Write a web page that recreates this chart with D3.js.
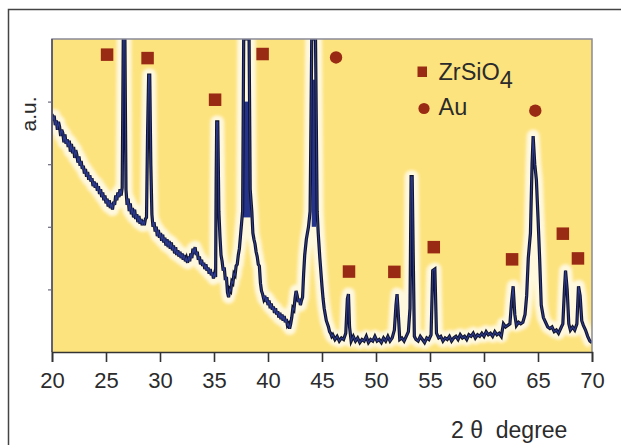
<!DOCTYPE html>
<html><head><meta charset="utf-8">
<script src="https://cdn.jsdelivr.net/npm/d3@7"></script>
<style>body{margin:0;background:#fff}svg{display:block}text{font-family:"Liberation Sans",Arial,sans-serif;fill:#2b2b2b}</style>
</head><body>
<script>
// ---- data ----
const xTicks = [20,25,30,35,40,45,50,55,60,65,70];
const yTicks = [20,40,60,80];
// XRD trace: [2theta, intensity (a.u., 0-100 = plot height)]
const trace = [
[20.0,76],[20.1,74],[20.2,75.5],[20.3,72.5],[20.4,74],[20.5,71],[20.6,73.5],[20.7,72],[20.8,69],[20.9,71],
[21.0,70],[21.1,67],[21.2,69.5],[21.3,66.5],[21.4,68],[21.5,65.5],[21.6,67.5],[21.7,64],[21.8,66.5],[21.9,63.5],
[22.0,65.5],[22.1,62],[22.2,64.5],[22.3,63],[22.4,60.5],[22.5,62.5],[22.6,59.5],[22.7,61],[22.8,58.5],[22.9,59.5],
[23.0,57],[23.1,58.5],[23.2,56],[23.3,57.5],[23.4,55],[23.5,56.5],[23.6,54.5],[23.7,55.5],[23.8,53],[23.9,54.5],
[24.0,52.5],[24.1,54],[24.2,51.5],[24.3,53],[24.4,50.5],[24.5,52],[24.6,49.5],[24.7,51],[24.8,48.5],[24.9,50],
[25.0,47.5],[25.1,49],[25.2,46.5],[25.3,48.5],[25.4,46],[25.5,47.5],[25.6,45.5],[25.7,48],[25.8,47],[25.9,50],
[26.0,48.5],[26.1,51],[26.2,49.5],[26.3,52],[26.4,50],[26.5,52.5],[26.6,100],[26.75,100],[26.85,52],[26.95,47],
[27.05,49],[27.15,45],[27.25,47.5],[27.35,44],[27.45,46],[27.55,43],[27.65,45.5],[27.75,42.5],[27.85,44],[27.95,41.5],
[28.05,43.5],[28.15,41],[28.25,42.5],[28.35,40.5],[28.45,42],[28.55,40.5],[28.65,42.5],[28.75,43],[28.85,70],[28.95,88.5],
[29.05,88.5],[29.15,60],[29.25,44],[29.35,40],[29.45,41.5],[29.55,38.5],[29.65,40],[29.75,37],[29.85,39],[29.95,36.5],
[30.05,38],[30.15,35.5],[30.25,37.5],[30.35,35],[30.45,36.5],[30.55,34],[30.65,36],[30.75,33.5],[30.85,35.5],[30.95,33],
[31.05,35],[31.15,32.5],[31.25,34],[31.35,31.5],[31.45,33.5],[31.55,31],[31.65,32.5],[31.75,30.5],[31.85,32],[31.95,30],
[32.05,31.5],[32.15,29.5],[32.25,31],[32.35,29],[32.45,30],[32.55,28.5],[32.65,30.5],[32.75,29],[32.85,31.5],[32.95,30],
[33.05,33],[33.15,31.5],[33.25,33.5],[33.35,31],[33.45,32],[33.55,29.5],[33.65,30.5],[33.75,28],[33.85,29.5],[33.95,27.5],
[34.05,28.5],[34.15,26.5],[34.25,28],[34.35,26],[34.45,27],[34.55,25],[34.65,26.5],[34.75,24.5],[34.85,25.5],[34.95,23.5],
[35.05,25],[35.15,24],[35.2,55],[35.25,73.5],[35.35,73.5],[35.45,45],[35.55,37],[35.65,31],[35.75,29],[35.85,26],
[35.95,27],[36.05,23],[36.15,24],[36.25,19],[36.35,17.5],[36.45,20],[36.55,19.5],[36.65,22.5],[36.75,22],[36.85,25],
[36.95,24.5],[37.05,27.5],[37.15,28],[37.25,31],[37.35,33],[37.45,37],[37.55,41],[37.65,45],[37.75,100],[38.25,100],
[38.35,52],[38.5,45],[38.6,38],[38.7,36],[38.8,34.5],[38.9,32],[39.0,30.5],[39.1,28],[39.2,27.5],[39.3,22],
[39.4,19.5],[39.5,18.5],[39.6,17],[39.7,18],[39.8,16],[39.9,17.5],[40.0,15],[40.1,16.5],[40.2,14],[40.3,15.5],
[40.4,13.5],[40.5,14.5],[40.6,12.5],[40.7,14],[40.8,12],[40.9,13],[41.0,11],[41.1,12.5],[41.2,10.5],[41.3,12],
[41.4,10],[41.5,11.5],[41.6,9.5],[41.7,10.5],[41.8,8.5],[41.9,9],[42.0,7.5],[42.1,9],[42.2,11],[42.3,14],
[42.4,13.5],[42.5,17],[42.6,19.5],[42.7,18],[42.8,16],[42.9,17],[43.0,15],[43.1,16.5],[43.2,17.5],[43.3,25],
[43.4,31],[43.55,36],[43.75,40],[43.9,45],[44.05,100],[44.4,100],[44.55,45],[44.65,38],[44.8,30],[45.0,21],
[45.1,17],[45.2,14],[45.3,12],[45.4,10],[45.5,9],[45.6,8],[45.7,6.5],[45.8,6],[45.9,5],[46.0,5.5],
[46.2,4],[46.4,5],[46.6,3.5],[46.8,4.5],[47.0,4],[47.2,6],[47.35,17],[47.45,18.5],[47.55,8],[47.7,3.5],
[47.9,5],[48.1,3.5],[48.3,4.5],[48.5,3],[48.7,4],[48.9,3.5],[49.1,5],[49.3,3],[49.5,4],[49.7,3.5],
[49.9,5],[50.1,3.5],[50.3,4],[50.5,3],[50.7,4.5],[50.9,3.5],[51.1,5],[51.3,3.5],[51.5,4.5],[51.7,7],
[51.85,15],[51.95,18.5],[52.05,13],[52.2,4],[52.4,4.5],[52.6,3.5],[52.8,5],[53.0,6.5],[53.15,14],[53.25,56],
[53.35,56],[53.45,30],[53.55,5],[53.7,4],[53.9,3.5],[54.1,5],[54.3,4],[54.5,3],[54.7,4.5],[54.9,4],
[55.1,5.5],[55.25,26],[55.45,26.5],[55.6,6],[55.8,4.5],[56.0,5],[56.2,3.5],[56.4,4.5],[56.6,4],[56.8,5],
[57.0,3.5],[57.2,4.5],[57.4,5],[57.6,4],[57.8,5.5],[58.0,4.5],[58.2,5],[58.4,4],[58.6,5.5],[58.8,5],
[59.0,6],[59.2,4.5],[59.4,5.5],[59.6,5],[59.8,6],[60.0,5],[60.2,6.5],[60.4,5.5],[60.6,6],[60.8,5],
[61.0,6.5],[61.2,5.5],[61.4,6],[61.6,5],[61.8,9],[62.0,8],[62.2,8.5],[62.4,9],[62.55,16],[62.7,21],
[62.85,12],[63.0,8.5],[63.2,9.5],[63.4,9],[63.6,9.5],[63.8,12],[63.95,18],[64.1,30],[64.3,38],[64.45,60],
[64.55,69],[64.7,60],[64.85,55],[65.0,43],[65.15,30],[65.3,15],[65.5,11],[65.7,9.5],[65.9,8],[66.1,7.5],
[66.3,8],[66.5,6.5],[66.7,7],[66.9,6],[67.1,7.5],[67.3,9],[67.45,20],[67.55,26],[67.7,20],[67.85,9],
[68.0,7],[68.2,8],[68.4,7],[68.6,9],[68.75,21],[68.9,18],[69.05,10],[69.2,8.5],[69.4,7],[69.6,5],
[69.8,3.5],[70.0,3]
];
// blue filled cores of the two broad clipped peaks: [deg0, deg1, val0, val1]
const blueBands = [[37.7,38.4,43,80],[44.05,44.45,40,87]];
const zrsio4Deg = [25.1,28.85,35.1,39.5,47.5,51.7,55.35,62.6,67.3,68.7];
const zrsio4Val = [95,93.9,80.6,95.2,25.7,25.6,33.5,29.6,37.8,29.9];
const auDeg = [46.3,64.75];
const auVal = [94.1,77.1];

// ---- drawing ----
const W=621,H=445;
const m={l:52,t:39,r:592,b:352};
const svg=d3.select("body").append("svg").attr("width",W).attr("height",H);
const x=d3.scaleLinear().domain([20,70]).range([m.l,m.r]);
const y=d3.scaleLinear().domain([0,100]).range([m.b,m.t]);
const FONT='"Liberation Sans",Arial,sans-serif';

// outer frame
svg.append("path").attr("d",`M8.5,${H}V9.5H${W}`).attr("fill","none").attr("stroke","#444").attr("stroke-width",1.5);

// plot background
svg.append("rect").attr("x",m.l).attr("y",m.t).attr("width",m.r-m.l).attr("height",m.b-m.t).attr("fill","#fde37d");

svg.append("clipPath").attr("id","pc").append("rect").attr("x",m.l).attr("y",m.t).attr("width",m.r-m.l).attr("height",m.b-m.t);
const g=svg.append("g").attr("clip-path","url(#pc)");

const line=d3.line().x(d=>x(d[0])).y(d=>y(d[1]));

svg.append("defs").append("filter").attr("id","blur").append("feGaussianBlur").attr("stdDeviation",1.6);
g.append("path").attr("d",line(trace)).attr("fill","none").attr("stroke","#ffffff").attr("stroke-opacity",0.75)
  .attr("stroke-width",13).attr("stroke-linejoin","round").attr("filter","url(#blur)");

g.selectAll("rect.band").data(blueBands).join("rect").attr("class","band")
  .attr("x",d=>x(d[0])).attr("width",d=>x(d[1])-x(d[0]))
  .attr("y",d=>y(d[3])).attr("height",d=>y(d[2])-y(d[3])).attr("fill","#25348a");

g.append("path").attr("d",line(trace)).attr("fill","none").attr("stroke","#11142a")
  .attr("stroke-width",3.2).attr("stroke-linejoin","miter");
g.append("path").attr("d",line(trace)).attr("fill","none").attr("stroke","#2c3a8e")
  .attr("stroke-width",1.1).attr("stroke-linejoin","miter");

// frame
svg.append("path").attr("d",`M${m.l},${m.b}V${m.t}H${m.r}V${m.b}`).attr("fill","none").attr("stroke","#8a8a98").attr("stroke-width",1.5);
svg.append("line").attr("x1",m.l).attr("x2",m.l).attr("y1",m.t).attr("y2",m.b).attr("stroke","#4a4a64").attr("stroke-width",1.5);

// x axis
const xa=svg.append("g").attr("transform",`translate(0,${m.b})`)
  .call(d3.axisBottom(x).tickValues(xTicks).tickSize(10).tickPadding(10).tickFormat(d3.format("d")));
xa.select(".domain").attr("stroke","#333").attr("stroke-width",1.6);
xa.selectAll(".tick line").attr("stroke","#333").attr("stroke-width",1.6);
xa.selectAll(".tick text").attr("font-size",22).attr("fill","#2b2b2b").attr("font-family",FONT);

// y axis ticks
const ya=svg.append("g").attr("transform",`translate(${m.l},0)`)
  .call(d3.axisLeft(y).tickValues(yTicks).tickSize(4).tickFormat(""));
ya.select(".domain").remove();
ya.selectAll(".tick line").attr("stroke","#6a6a7a").attr("stroke-width",1.2);

// markers
const red="#992a14";
const sq=12.5;
svg.selectAll("rect.zr").data(zrsio4Deg.map((d,i)=>[d,zrsio4Val[i]])).join("rect").attr("class","zr")
  .attr("x",d=>x(d[0])-sq/2).attr("y",d=>y(d[1])-sq/2).attr("width",sq).attr("height",sq).attr("fill",red);
svg.selectAll("circle.au").data(auDeg.map((d,i)=>[d,auVal[i]])).join("circle").attr("class","au")
  .attr("cx",d=>x(d[0])).attr("cy",d=>y(d[1])).attr("r",6.2).attr("fill",red);

// legend
svg.append("rect").attr("x",417.5).attr("y",66.5).attr("width",9.5).attr("height",10.5).attr("fill",red);
svg.append("circle").attr("cx",424).attr("cy",108.5).attr("r",5.6).attr("fill",red);
const lt=svg.append("text").attr("x",438.5).attr("y",80).attr("font-size",23.5);
lt.append("tspan").text("ZrSiO");
lt.append("tspan").attr("dy",8).text("4");
svg.append("text").attr("x",438.5).attr("y",115).attr("font-size",23.5).text("Au");

// axis titles
svg.append("text").attr("transform","translate(36,114) rotate(-90)").attr("text-anchor","middle").attr("font-size",21).text("a.u.");
svg.append("text").attr("x",451).attr("y",438).attr("font-size",23).attr("xml:space","preserve").text("2 θ  degree");
</script>
</body></html>
